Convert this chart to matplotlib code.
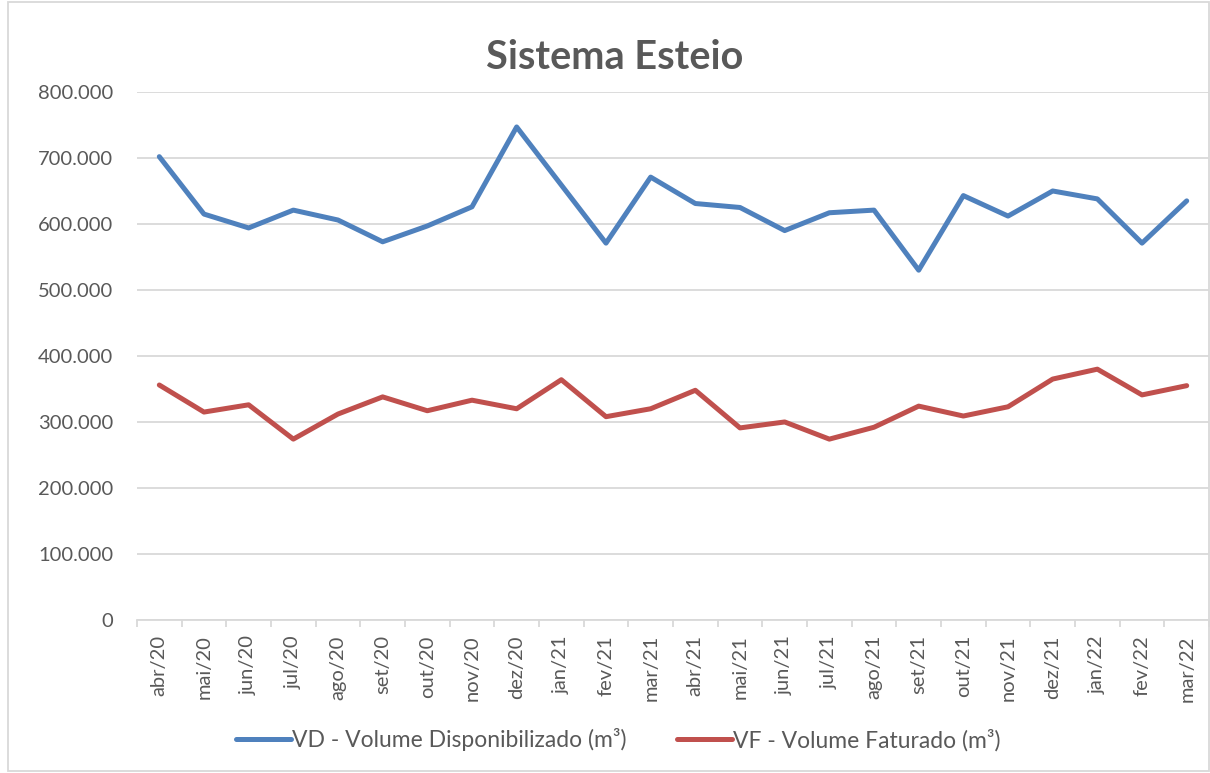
#!/usr/bin/env python3
import numpy as np
import matplotlib
import matplotlib.pyplot as plt
from matplotlib.ticker import FuncFormatter, FixedLocator
from matplotlib.patches import Rectangle

matplotlib.use("Agg")

plt.rcParams["font.family"] = ["Lato", "DejaVu Sans"]

TEXT_COLOR = "#595959"
GRID_COLOR = "#D9D9D9"

months = [
    "abr/20", "mai/20", "jun/20", "jul/20", "ago/20", "set/20", "out/20", "nov/20",
    "dez/20", "jan/21", "fev/21", "mar/21", "abr/21", "mai/21", "jun/21", "jul/21",
    "ago/21", "set/21", "out/21", "nov/21", "dez/21", "jan/22", "fev/22", "mar/22",
]
vd_values = [
    702000, 615000, 594000, 621000, 606000, 573000, 597000, 626000,
    747000, 659000, 571000, 671000, 631000, 625000, 590000, 617000,
    621000, 530000, 643000, 612000, 650000, 638000, 571000, 635000,
]
vf_values = [
    356000, 315000, 326000, 274000, 312000, 338000, 317000, 333000,
    320000, 364000, 308000, 320000, 348000, 291000, 300000, 274000,
    292000, 324000, 309000, 323000, 365000, 380000, 341000, 355000,
]
y_ticks = [0, 100000, 200000, 300000, 400000, 500000, 600000, 700000, 800000]


def br_thousands(v, pos=None):
    if v == 0:
        return "0"
    return f"{int(v):,}".replace(",", ".")


def main():
    fig = plt.figure(figsize=(12.1, 7.73), dpi=100)
    ax = fig.add_axes([0.1132, 0.198, 0.886, 0.683])

    x = np.arange(len(months))
    ax.plot(x, vd_values, color="#4F81BD", lw=3.6, solid_joinstyle="round",
            solid_capstyle="round", label="VD - Volume Disponibilizado (m³)")
    ax.plot(x, vf_values, color="#C0504D", lw=3.6, solid_joinstyle="round",
            solid_capstyle="round", label="VF - Volume Faturado (m³)")

    ax.set_xlim(-0.5, len(months) - 0.5)
    ax.set_ylim(0, 800000)
    ax.set_yticks(y_ticks)
    ax.yaxis.set_major_formatter(FuncFormatter(br_thousands))
    ax.set_xticks(x)
    ax.set_xticklabels(months, rotation=90)
    ax.xaxis.set_minor_locator(FixedLocator(np.arange(-0.5, len(months), 1.0)))

    ax.grid(axis="y", color=GRID_COLOR, lw=1.3)
    ax.set_axisbelow(True)
    for side in ["top", "right", "left"]:
        ax.spines[side].set_visible(False)
    ax.spines["bottom"].set_color(GRID_COLOR)
    ax.spines["bottom"].set_linewidth(1.3)

    ax.tick_params(axis="y", length=0, pad=17, labelsize=14.5, labelcolor=TEXT_COLOR)
    ax.tick_params(axis="x", which="major", length=0, pad=11, labelsize=14.5,
                   labelcolor=TEXT_COLOR)
    ax.tick_params(axis="x", which="minor", length=5, width=1.3, color=GRID_COLOR)

    fig.text(0.508, 0.926, "Sistema Esteio", ha="center", va="center",
             fontsize=28.5, fontweight="bold", color=TEXT_COLOR)

    leg = fig.legend(loc="center", bbox_to_anchor=(0.511, 0.043), ncol=2,
                     frameon=False, fontsize=16.5, handlelength=2.4,
                     handletextpad=0.05, columnspacing=2.2)
    for t in leg.get_texts():
        t.set_color(TEXT_COLOR)

    fig.patches.append(Rectangle((0.007, 0.003), 0.992, 0.994, transform=fig.transFigure,
                                 fill=False, edgecolor=GRID_COLOR, lw=1.3))

    fig.savefig("out.png", dpi=100)
    plt.close(fig)


if __name__ == "__main__":
    main()
